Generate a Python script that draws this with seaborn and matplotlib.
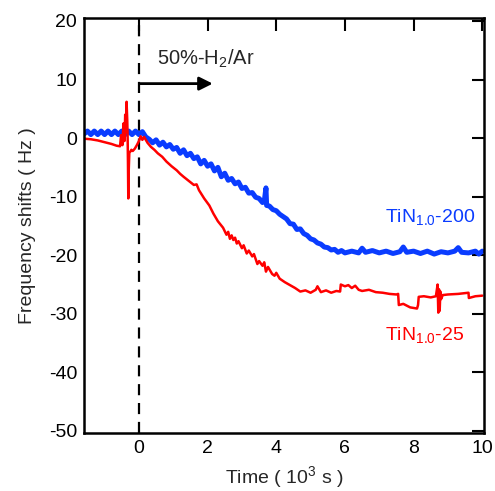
import numpy as np
import pandas as pd
import matplotlib
matplotlib.use("Agg")
import matplotlib.pyplot as plt
import seaborn as sns

# ---------------- data (time in 10^3 s, frequency shift in Hz) ----------------
blue_t = [-1.6, -1.5, -1.4, -1.3, -1.2, -1.1, -1.0, -0.9, -0.8, -0.7, -0.6, -0.5,
          -0.4, -0.3, -0.2, -0.1, 0.0, 0.1,
          0.2, 0.3, 0.4, 0.5, 0.6, 0.7, 0.8, 0.9, 1.0, 1.1, 1.2, 1.3, 1.4, 1.5,
          1.6, 1.7, 1.8, 1.9, 2.0, 2.1, 2.2, 2.3, 2.4, 2.5, 2.6, 2.7, 2.8, 2.9,
          3.0, 3.1, 3.2, 3.3, 3.4, 3.5, 3.6, 3.65, 3.7, 3.72, 3.8, 3.9, 4.0, 4.1,
          4.2, 4.3, 4.4, 4.5, 4.6, 4.7, 4.8, 4.9, 5.0, 5.1, 5.2, 5.3, 5.4, 5.5,
          5.6, 5.7, 5.8, 5.9, 6.0, 6.2, 6.4, 6.5, 6.6, 6.8, 7.0, 7.2, 7.4, 7.6,
          7.7, 7.8, 8.0, 8.2, 8.4, 8.6, 8.8, 9.0, 9.2, 9.3, 9.4, 9.6, 9.8, 9.9, 10.0]
blue_f = [0.7, 1.2, 0.6, 1.2, 0.6, 1.2, 0.6, 1.2, 0.6, 1.2, 0.6, 1.2,
          0.6, 1.2, 0.6, 1.2, 0.6, 1.1,
          0.2, -0.2, -0.8, -0.3, -1.2, -0.7, -1.5, -1.1, -1.9, -1.6, -2.6, -2.0, -3.0, -2.6,
          -3.5, -3.2, -4.4, -3.8, -4.8, -4.4, -5.6, -5.0, -6.6, -6.0, -7.2, -6.9, -7.8, -7.5,
          -8.6, -8.4, -9.4, -9.3, -10.1, -10.3, -11.0, -10.8, -8.5, -11.5, -11.6, -12.2, -12.4, -13.0,
          -13.4, -13.8, -14.6, -14.7, -15.6, -15.5, -16.3, -16.6, -17.2, -17.4, -17.9, -18.1, -18.6, -18.7,
          -19.1, -19.0, -19.5, -19.2, -19.6, -19.3, -19.6, -18.8, -19.5, -19.2, -19.6, -19.3, -19.7, -19.4,
          -18.6, -19.5, -19.3, -19.7, -19.3, -19.8, -19.4, -19.6, -19.3, -18.7, -19.5, -19.6, -19.3, -19.8, -19.3]

red_t = [-1.6, -1.4, -1.2, -1.0, -0.8, -0.65, -0.55, -0.52, -0.48, -0.45,
         -0.42, -0.40, -0.38, -0.36, -0.34, -0.33, -0.32, -0.31, -0.30, -0.28,
         -0.25, -0.22, -0.18, -0.12, -0.06, 0.0, 0.05, 0.1, 0.15, 0.25,
         0.35, 0.45, 0.55, 0.68, 0.8, 0.95, 1.1, 1.2, 1.3, 1.45,
         1.6, 1.68, 1.75, 1.9, 2.05, 2.17, 2.3, 2.45, 2.55, 2.6,
         2.65, 2.7, 2.75, 2.8, 2.85, 2.9, 3.0, 3.05, 3.14, 3.2,
         3.3, 3.35, 3.45, 3.5, 3.6, 3.65, 3.7, 3.76, 3.82, 3.88,
         3.95, 4.0, 4.1, 4.25, 4.4, 4.55, 4.7, 4.85, 5.0, 5.15,
         5.2, 5.3, 5.45, 5.6, 5.75, 5.86, 5.88, 6.0, 6.1, 6.2,
         6.3, 6.4, 6.5, 6.7, 6.9, 7.1, 7.3, 7.5, 7.55, 7.57,
         7.7, 7.9, 8.1, 8.13, 8.15, 8.3, 8.5, 8.65, 8.7, 8.72,
         8.74, 8.76, 8.78, 8.8, 8.85, 9.0, 9.3, 9.6, 9.61, 9.8,
         10.0]
red_f = [-0.1, -0.2, -0.4, -0.7, -1.0, -1.3, -1.4, 0.5, -1.2, 2.5,
         -0.5, 4.0, 1.0, 6.2, 3.0, 0.5, -4.0, -10.3, -6.0, -2.5,
         -2.3, -2.0, -2.2, -1.8, -1.2, -0.5, 0.3, -0.3, 0.2, -0.8,
         -1.5, -2.0, -2.6, -3.2, -4.0, -4.8, -5.5, -6.1, -6.6, -7.3,
         -8.0, -7.9, -8.9, -10.3, -11.5, -12.9, -14.2, -15.3, -16.5, -16.0,
         -17.2, -16.6, -17.4, -17.0, -18.0, -17.6, -18.8, -18.3, -19.7, -19.2,
         -20.2, -19.8, -21.5, -21.0, -21.8, -21.2, -22.8, -22.0, -22.6, -23.2,
         -23.5, -23.0, -24.0, -24.6, -25.1, -25.6, -26.2, -26.0, -26.4, -25.9,
         -25.3, -26.3, -26.0, -26.4, -26.1, -26.2, -25.0, -25.3, -25.1, -25.6,
         -25.2, -25.9, -26.1, -25.9, -26.3, -26.4, -26.6, -26.7, -26.6, -28.5,
         -28.3, -28.9, -29.1, -28.5, -27.1, -27.0, -27.2, -27.0, -25.0, -29.8,
         -25.8, -29.5, -26.2, -27.5, -26.8, -26.7, -26.6, -26.4, -27.3, -27.0,
         -26.9]

x_ticks = [0, 2, 4, 6, 8, 10]
y_ticks = [-50, -40, -30, -20, -10, 0, 10, 20]

blue_df = pd.DataFrame({"t": blue_t, "f": blue_f})
red_df = pd.DataFrame({"t": red_t, "f": red_f})

# ---------------- style ----------------
sns.set_theme(style="white")
plt.rcParams["font.family"] = ["Liberation Sans", "DejaVu Sans"]
plt.rcParams["mathtext.default"] = "regular"
plt.rcParams["axes.unicode_minus"] = False

fig = plt.figure(figsize=(4.95, 4.91), dpi=100)
ax = fig.add_axes([0.1697, 0.1187, 0.808, 0.8446])

BLUE = "#0a3cff"
RED = "#ff0000"

sns.lineplot(data=blue_df, x="t", y="f", ax=ax, color=BLUE, lw=3.6,
             sort=False, estimator=None)
sns.lineplot(data=red_df, x="t", y="f", ax=ax, color=RED, lw=1.8,
             sort=False, estimator=None)

ax.axvline(0, color="black", lw=1.6, ls=(0, (5, 3.5)), zorder=1)

ax.set_xlim(-1.6, 10.05)
ax.set_ylim(-50.3, 20.5)
ax.set_xticks(x_ticks)
ax.set_yticks(y_ticks)

for s in ax.spines.values():
    s.set_linewidth(1.8)
    s.set_color("black")
ax.tick_params(direction="in", length=9, width=1.5, top=True, right=True,
               labeltop=False, labelright=False, labelsize=14, colors="black",
               pad=5)

ax.set_xlabel("Time ( 10$^3$ s )", fontsize=14, labelpad=5)
ax.set_ylabel("Frequency shifts ( Hz )", fontsize=14, labelpad=9)

ax.annotate("", xy=(2.15, 9.3), xytext=(0.04, 9.3),
            arrowprops=dict(arrowstyle="-|>", color="black", lw=2,
                            mutation_scale=20, shrinkA=0, shrinkB=0))
ax.text(0.52, 13.6, "50%-H$_2$/Ar", fontsize=14.5, va="center", ha="left")
ax.text(7.17, -13.4, "TiN$_{1.0}$-200", fontsize=14, color=BLUE,
        va="center", ha="left")
ax.text(7.17, -33.7, "TiN$_{1.0}$-25", fontsize=14, color=RED,
        va="center", ha="left")

fig.savefig("out.png", dpi=100)
